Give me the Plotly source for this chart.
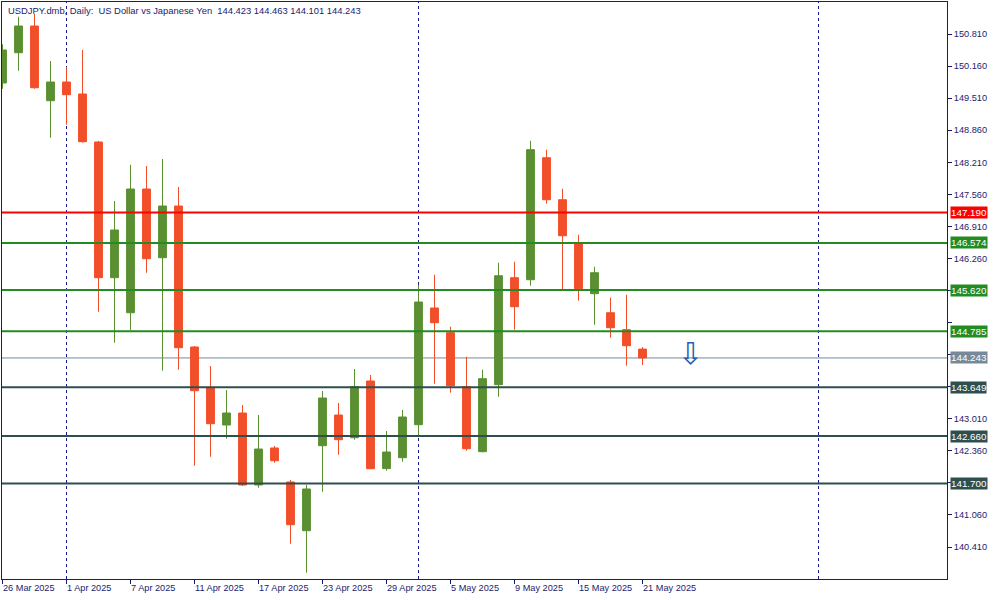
import pandas as pd
import plotly.graph_objects as go

# ---------------- data ----------------
dates = ["2025-03-26", "2025-03-27", "2025-03-28", "2025-03-31",
         "2025-04-01", "2025-04-02", "2025-04-03", "2025-04-04",
         "2025-04-07", "2025-04-08", "2025-04-09", "2025-04-10", "2025-04-11",
         "2025-04-14", "2025-04-15", "2025-04-16", "2025-04-17", "2025-04-18",
         "2025-04-21", "2025-04-22", "2025-04-23", "2025-04-24", "2025-04-25",
         "2025-04-28", "2025-04-29", "2025-04-30", "2025-05-01", "2025-05-02",
         "2025-05-05", "2025-05-06", "2025-05-07", "2025-05-08", "2025-05-09",
         "2025-05-12", "2025-05-13", "2025-05-14", "2025-05-15", "2025-05-16",
         "2025-05-19", "2025-05-20", "2025-05-21"]
open_ = [149.817, 150.431, 150.972, 149.458, 149.837, 149.594, 148.621, 145.870,
         145.160, 147.668, 146.275, 147.323, 144.465, 143.648, 142.884, 143.127,
         141.668, 142.418, 141.728, 140.741, 142.464, 143.086, 142.626, 143.776,
         142.000, 142.221, 142.890, 145.256, 144.755, 143.660, 142.343, 143.701,
         145.870, 145.829, 148.302, 147.451, 146.579, 145.546, 145.160, 144.816,
         144.423]
high = [150.600, 151.161, 151.215, 150.263, 150.141, 150.486, 148.640, 147.425,
        148.160, 148.134, 148.276, 147.708, 144.485, 144.080, 143.593, 143.289,
        143.086, 142.458, 141.769, 141.668, 143.573, 143.330, 144.019, 143.898,
        142.762, 143.188, 145.728, 145.931, 144.877, 144.268, 144.005, 146.174,
        146.194, 148.647, 148.465, 147.674, 146.741, 146.093, 145.464, 145.525,
        144.463]
low = [149.700, 150.066, 149.700, 148.708, 148.971, 148.610, 145.181, 144.552,
       144.810, 145.971, 143.985, 144.005, 142.059, 142.241, 142.606, 141.647,
       141.613, 142.119, 140.478, 139.890, 141.532, 142.282, 142.586, 141.990,
       141.957, 142.140, 142.647, 143.721, 143.539, 142.363, 142.330, 143.457,
       144.816, 145.708, 147.370, 145.606, 145.404, 144.917, 144.654, 144.086,
       144.101]
close = [150.486, 150.972, 149.721, 149.837, 149.580, 148.627, 145.870, 146.837,
         147.668, 146.255, 147.323, 144.451, 143.579, 142.910, 143.127, 141.668,
         142.397, 142.160, 140.863, 141.587, 143.431, 142.586, 143.660, 141.998,
         142.336, 143.046, 145.377, 144.958, 143.680, 142.403, 143.823, 145.910,
         145.282, 148.465, 147.451, 146.721, 145.647, 145.971, 144.856, 144.491,
         144.243]

# horizontal levels: value, colour
level_values = [147.190, 146.574, 145.620, 144.785, 143.649, 142.660, 141.700]
level_colors = ["#ff0000", "#228b22", "#228b22", "#228b22", "#2f4f4f", "#2f4f4f", "#2f4f4f"]
bid_price = 144.243

separator_dates = ["2025-04-01", "2025-05-01", "2025-06-01"]
label_step = 4
signal_date = "2025-05-24"
signal_price = 144.34

y_tick0 = 140.41
y_dtick = 0.65
y_range = [139.762, 151.459]

title_text = ("USDJPY.dmb,\u00a0Daily:\u00a0\u00a0US Dollar vs Japanese Yen\u00a0\u00a0"
              "144.423 144.463 144.101 144.243")

# ---------------- helpers ----------------
dt = pd.to_datetime(dates)
idx = list(range(len(dates)))
dt_list = list(dt)


def date_pos(d):
    d = pd.Timestamp(d)
    if d in dt_list:
        return dt_list.index(d)
    # future / non-trading dates: extrapolate in calendar days (MT style)
    return len(dates) - 1 + (d - dt[-1]).days


NAVY = "#1b1b6e"
TXT = "#1b1b6e"
FONT = "Liberation Sans, Arial, sans-serif"
GREEN = "#5a8f32"
RED = "#f24e29"
FS = 9.2

fig = go.Figure()
fig.add_trace(go.Candlestick(
    x=idx, open=open_, high=high, low=low, close=close,
    increasing=dict(line=dict(color=GREEN, width=1), fillcolor=GREEN),
    decreasing=dict(line=dict(color=RED, width=1), fillcolor=RED),
    whiskerwidth=0, showlegend=False, hoverinfo="skip",
))

shapes = []
annotations = []

# period separators
for d in separator_dates:
    p = date_pos(d)
    shapes.append(dict(type="line", xref="x", yref="paper", x0=p, x1=p, y0=0, y1=1,
                       line=dict(color="#1a1a8c", width=1, dash="3px,3px"), layer="below"))

# levels
for v, c in zip(level_values, level_colors):
    shapes.append(dict(type="line", xref="paper", yref="y", x0=0, x1=1, y0=v, y1=v,
                       line=dict(color=c, width=2), layer="above"))
shapes.append(dict(type="line", xref="paper", yref="y", x0=0, x1=1, y0=bid_price, y1=bid_price,
                   line=dict(color="#778899", width=1), layer="below"))

# price labels on axis
label_levels = list(zip(level_values, level_colors)) + [(bid_price, "#778899")]
for v, c in label_levels:
    annotations.append(dict(xref="paper", yref="y", x=1, y=v, xanchor="left", yanchor="middle",
                            xshift=3, text=f"{v:.3f}", showarrow=False, bgcolor=c,
                            borderpad=0, font=dict(color="white", size=FS + 0.6, family=FONT)))

# y ticks (labels hidden behind a price box are skipped; their tick mark stays)
px_per_unit = 577 / (y_range[1] - y_range[0])
tickvals_y, ticktext_y = [], []
t = y_tick0
while t < y_range[1]:
    tickvals_y.append(round(t, 3))
    covered = any(abs(t - v) * px_per_unit < 9 for v, _ in label_levels)
    ticktext_y.append("" if covered else f"{t:.3f}")
    t += y_dtick

# date labels
for i in range(0, len(dates), label_step):
    lab = f"{dt[i].day} {dt[i].strftime('%b %Y')}"
    annotations.append(dict(xref="x", yref="paper", x=i, y=0, xanchor="left", yanchor="top",
                            xshift=-2, yshift=-2, text=lab, showarrow=False,
                            font=dict(color=TXT, size=FS, family=FONT)))

# title
annotations.append(dict(xref="paper", yref="paper", x=0, y=1, xanchor="left", yanchor="top",
                        xshift=4, yshift=-1, text=title_text, showarrow=False,
                        font=dict(color=TXT, size=FS + 0.2, family=FONT)))

# sell signal arrow
annotations.append(dict(xref="x", yref="y", x=date_pos(signal_date), y=signal_price,
                        xanchor="center", yanchor="middle", text="\u21e9", showarrow=False,
                        font=dict(color="#1f5fb4", size=30, family="DejaVu Sans")))

px_per_bar = 16.0
x0 = -0.5 / px_per_bar
x1 = x0 + 945 / px_per_bar

fig.update_layout(
    width=1000, height=600,
    margin=dict(l=2, r=53, t=2, b=21),
    paper_bgcolor="white", plot_bgcolor="white",
    shapes=shapes, annotations=annotations,
    xaxis=dict(range=[x0, x1], rangeslider=dict(visible=False), showgrid=False, zeroline=False,
               showline=True, mirror=True, linecolor=NAVY, linewidth=1,
               tickmode="array", tickvals=list(range(0, len(dates), label_step)),
               ticks="outside", ticklen=4, tickcolor=NAVY, showticklabels=False),
    yaxis=dict(range=y_range, side="right", showgrid=False, zeroline=False,
               showline=True, mirror=True, linecolor=NAVY, linewidth=1,
               tickmode="array", tickvals=tickvals_y, ticktext=ticktext_y,
               ticks="outside", ticklen=4, tickcolor=NAVY,
               tickfont=dict(color=TXT, size=FS, family=FONT)),
    font=dict(family=FONT),
)

fig.write_html("out.html", config={"displayModeBar": False},
               post_script="document.body.style.margin='0';document.body.style.overflow='hidden';")
